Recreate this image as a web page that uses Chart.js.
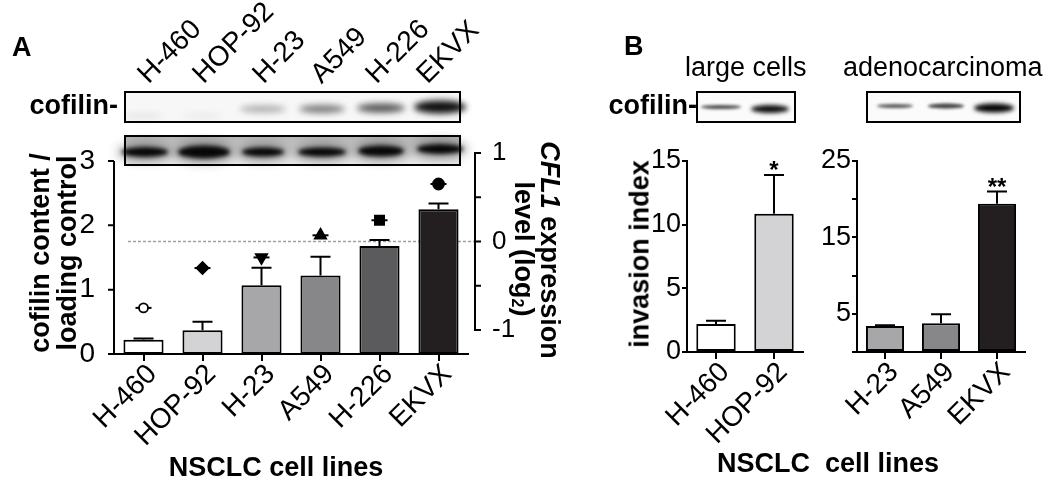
<!DOCTYPE html>
<html>
<head>
<meta charset="utf-8">
<script src="https://cdn.jsdelivr.net/npm/chart.js@4.4.1/dist/chart.umd.min.js"></script>
<style>
html, body { margin: 0; padding: 0; background: #fff; }
#fig { position: relative; width: 1050px; height: 487px; overflow: hidden; font-family: "Liberation Sans", Arial, sans-serif; color: #000; }
#fig canvas { position: absolute; top: 0; }
.t { position: absolute; line-height: 1; white-space: pre; }
.b { font-weight: bold; }
.rot { transform-origin: 0 100%; transform: rotate(-45deg); font-size: 28px; }
.vl { transform: translate(-50%, -50%) rotate(-90deg); }
.vr { transform: translate(-50%, -50%) rotate(90deg); }
</style>
</head>
<body>
<div id="fig">
  <canvas id="blots" width="1050" height="487" style="left:0"></canvas>
  <canvas id="chartA" width="520" height="487" style="left:0"></canvas>
  <canvas id="chartB1" width="210" height="487" style="left:620px"></canvas>
  <canvas id="chartB2" width="250" height="487" style="left:800px"></canvas>

  <!-- panel A text -->
  <div class="t b" style="left:12px;top:34px;font-size:27px">A</div>
  <div class="t b" style="left:0;width:118px;text-align:right;top:92px;font-size:27px">cofilin-</div>
  <div class="t rot" style="left:152px;top:60px">H-460</div>
  <div class="t rot" style="left:207px;top:60px">HOP-92</div>
  <div class="t rot" style="left:267px;top:60px">H-23</div>
  <div class="t rot" style="left:325px;top:60px">A549</div>
  <div class="t rot" style="left:380px;top:60px">H-226</div>
  <div class="t rot" style="left:431px;top:60px">EKVX</div>
  <div class="t b vl" style="left:40px;top:253px;font-size:27px">cofilin content /</div>
  <div class="t b vl" style="left:67px;top:253px;font-size:27px">loading control</div>
  <div class="t b vr" style="left:549px;top:250px;font-size:27px"><i>CFL1</i> expression</div>
  <div class="t b vr" style="left:523px;top:249px;font-size:27px">level (log<span style="font-size:16px;vertical-align:-3px;line-height:0">2</span>)</div>
  <div class="t b" style="left:276px;top:454px;font-size:27px;transform:translateX(-50%)">NSCLC cell lines</div>

  <!-- panel B text -->
  <div class="t b" style="left:624px;top:33px;font-size:27px">B</div>
  <div class="t" style="left:685px;top:54px;font-size:27px">large cells</div>
  <div class="t" style="left:843px;top:54px;font-size:27px">adenocarcinoma</div>
  <div class="t b" style="left:600px;width:97px;text-align:right;top:92px;font-size:27px">cofilin-</div>
  <div class="t b vl" style="left:640px;top:254px;font-size:27px">invasion index</div>
  <div class="t b" style="left:828px;top:450px;font-size:27px;transform:translateX(-50%)">NSCLC  cell lines</div>
</div>

<script>
// panel A: cofilin content (bars) and CFL1 mRNA level (markers, right axis)
const cellLinesA = ['H-460', 'HOP-92', 'H-23', 'A549', 'H-226', 'EKVX'];
const cofilinContent = [0.22, 0.37, 1.07, 1.22, 1.68, 2.25];
const cofilinErr = [0.02, 0.13, 0.27, 0.29, 0.09, 0.09];
const cfl1Log2 = [-0.75, -0.30, -0.18, 0.07, 0.24, 0.65];

// panel B: invasion index
const cellLinesB1 = ['H-460', 'HOP-92'];
const invasionB1 = [2.2, 10.85];
const invasionB1Err = [0.25, 3.05];
const starsB1 = ['', '*'];

const cellLinesB2 = ['H-23', 'A549', 'EKVX'];
const invasionB2 = [3.4, 3.75, 19.4];
const invasionB2Err = [0.1, 1.2, 1.6];
const starsB2 = ['', '', '**'];

const barGreys = ['#ffffff', '#d3d3d5', '#a7a7a9', '#87878a', '#5b5b5d', '#231f20'];
const greyFor = names => names.map(n => barGreys[cellLinesA.indexOf(n)]);

Chart.defaults.font.family = '"Liberation Sans", Arial, sans-serif';
Chart.defaults.color = '#000';

//-------------
//- BLOTS -
//-------------
const bc = document.getElementById('blots').getContext('2d');

function band(cx, cy, w, h, alpha, blur) {
    bc.save();
    bc.filter = 'blur(' + blur + 'px)';
    bc.fillStyle = 'rgba(0,0,0,' + alpha + ')';
    bc.beginPath();
    bc.ellipse(cx, cy, w / 2, h / 2, 0, 0, Math.PI * 2);
    bc.fill();
    bc.restore();
}

function frame(x, y, w, h) {
    bc.save();
    bc.lineWidth = 2;
    bc.strokeStyle = '#000';
    bc.strokeRect(x, y, w, h);
    bc.restore();
}

// cofilin blot A
bc.fillStyle = '#f7f7f7';
bc.fillRect(125, 92, 335, 30);
band(143, 116, 40, 6, 0.07, 3);
band(202, 116, 40, 6, 0.05, 3);
band(263, 109, 46, 7, 0.3, 3);
band(322, 109, 46, 8, 0.5, 3);
band(381, 108, 48, 9, 0.65, 3);
band(440, 107, 52, 13, 0.95, 3);
frame(125, 92, 335, 30);

// loading control blot A
var g = bc.createLinearGradient(0, 136, 0, 165);
g.addColorStop(0, '#b4b4b4');
g.addColorStop(0.5, '#d4d4d4');
g.addColorStop(1, '#ececec');
bc.fillStyle = g;
bc.fillRect(125, 136, 335, 29);
[[145, 152, 46, 10], [204, 152, 52, 13], [263, 152, 42, 9], [322, 152, 48, 9], [381, 151, 46, 11], [440, 149, 46, 10]].forEach(b => {
    band(b[0], b[1], b[2] + 10, b[3] + 10, 0.3, 5);
    band(b[0], b[1], b[2], b[3], 0.95, 2);
});
frame(125, 136, 335, 29);

// cofilin blots B
bc.fillStyle = '#fbfbfb';
bc.fillRect(697, 92, 98, 30);
bc.fillRect(867, 92, 153, 30);
band(721, 107, 40, 4, 0.7, 1.5);
band(770, 109, 38, 8, 0.95, 2);
band(895, 106, 36, 4, 0.65, 1.5);
band(946, 106, 36, 5, 0.75, 1.5);
band(994, 108, 40, 9, 0.98, 2);
frame(697, 92, 98, 30);
frame(867, 92, 153, 30);

//-------------
//- PLUGINS -
//-------------
var errorBars = {
    id: 'errorBars',
    afterDatasetsDraw(chart) {
        const ctx = chart.ctx;
        chart.data.datasets.forEach((ds, di) => {
            if (!ds.errors) return;
            const meta = chart.getDatasetMeta(di);
            const yScale = chart.scales[meta.yAxisID];
            ctx.save();
            ctx.strokeStyle = '#000';
            ctx.fillStyle = '#000';
            ctx.lineWidth = 2;
            meta.data.forEach((bar, i) => {
                const top = yScale.getPixelForValue(ds.data[i] + ds.errors[i]);
                ctx.beginPath();
                ctx.moveTo(bar.x, bar.y);
                ctx.lineTo(bar.x, top);
                ctx.moveTo(bar.x - 10, top);
                ctx.lineTo(bar.x + 10, top);
                ctx.stroke();
                if (ds.stars && ds.stars[i]) {
                    ctx.font = 'bold 24px "Liberation Sans", Arial, sans-serif';
                    ctx.textAlign = 'center';
                    ctx.textBaseline = 'alphabetic';
                    ctx.fillText(ds.stars[i], bar.x, top + 3);
                }
            });
            ctx.restore();
        });
    }
};

var axesA = {
    id: 'axesA',
    beforeDatasetsDraw(chart) {
        const {ctx, chartArea, scales: {y2}} = chart;
        const py = y2.getPixelForValue(0);
        ctx.save();
        ctx.strokeStyle = '#a0a0a0';
        ctx.lineWidth = 1.5;
        ctx.setLineDash([3, 2]);
        ctx.beginPath();
        ctx.moveTo(chartArea.left + 14, py);
        ctx.lineTo(chartArea.right + 7, py);
        ctx.stroke();
        ctx.restore();
    },
    afterDraw(chart) {
        const {ctx, chartArea, scales: {y, y2}} = chart;
        ctx.save();
        ctx.strokeStyle = '#000';
        ctx.lineWidth = 2;
        ctx.beginPath();
        // left axis
        const xl = chartArea.left;
        const yt = y.ticks;
        ctx.moveTo(xl, chartArea.bottom + 1);
        ctx.lineTo(xl, y.getPixelForValue(yt[yt.length - 1].value));
        yt.forEach(t => {
            const p = y.getPixelForValue(t.value);
            ctx.moveTo(xl - 6, p);
            ctx.lineTo(xl, p);
        });
        // right axis
        const xr = chartArea.right + 7;
        const t2 = y2.ticks;
        ctx.moveTo(xr, y2.getPixelForValue(t2[0].value));
        ctx.lineTo(xr, y2.getPixelForValue(t2[t2.length - 1].value));
        t2.forEach(t => {
            const p = y2.getPixelForValue(t.value);
            ctx.moveTo(xr - 1, p);
            ctx.lineTo(xr + 6, p);
        });
        ctx.stroke();
        ctx.restore();
    }
};

const xTicks = {font: {size: 28}, minRotation: 45, maxRotation: 45, autoSkip: false, padding: -3, labelOffset: 9};

//-------------
//- PANEL A -
//-------------
new Chart(document.getElementById('chartA'), {
    type: 'bar',
    data: {
        labels: cellLinesA,
        datasets: [{
            type: 'line',
            data: cfl1Log2,
            yAxisID: 'y2',
            showLine: false,
            order: 1,
            pointStyle: ['circle', 'rectRot', 'triangle', 'triangle', 'rect', 'circle'],
            pointRotation: [0, 0, 180, 0, 0, 0],
            pointRadius: [4.5, 6, 6.5, 6.5, 6.5, 5.5],
            pointBackgroundColor: ['#fff', '#000', '#000', '#000', '#000', '#000'],
            pointBorderColor: '#000',
            pointBorderWidth: 1.8
        }, {
            type: 'line',
            data: cfl1Log2,
            yAxisID: 'y2',
            showLine: false,
            order: 2,
            pointStyle: 'line',
            pointRadius: 8,
            pointBorderColor: '#000',
            pointBorderWidth: 2
        }, {
            data: cofilinContent,
            errors: cofilinErr,
            yAxisID: 'y',
            order: 3,
            backgroundColor: barGreys,
            borderColor: '#000',
            borderWidth: 2,
            borderSkipped: false,
            barPercentage: 0.68,
            categoryPercentage: 1
        }]
    },
    options: {
        responsive: false,
        animation: false,
        layout: {padding: {top: 153, left: 0, right: 0, bottom: 0}},
        plugins: {legend: {display: false}, tooltip: {enabled: false}},
        scales: {
            x: {
                grid: {display: true, drawOnChartArea: false, offset: false, tickLength: 7, color: '#000', lineWidth: 2},
                border: {color: '#000', width: 2},
                ticks: xTicks,
                afterFit: s => { s.height = 133; }
            },
            y: {
                position: 'left',
                min: 0,
                max: 3.124,
                grid: {display: false},
                border: {display: false},
                ticks: {stepSize: 1, includeBounds: false, font: {size: 28}, padding: 11},
                afterFit: s => { s.width = 114; }
            },
            y2: {
                position: 'right',
                min: -1.271,
                max: 1,
                grid: {display: false},
                border: {display: false},
                ticks: {
                    stepSize: 0.5,
                    includeBounds: false,
                    callback: v => Number.isInteger(v) ? v : '',
                    font: {size: 26},
                    padding: 16,
                    crossAlign: 'near'
                },
                afterFit: s => { s.width = 52; }
            }
        }
    },
    plugins: [axesA, errorBars]
});

//-------------
//- PANEL B -
//-------------
function invasionChart(id, labels, values, errors, stars, max, showTick, leftW, rightPad) {
    return new Chart(document.getElementById(id), {
        type: 'bar',
        data: {
            labels: labels,
            datasets: [{
                data: values,
                errors: errors,
                stars: stars,
                backgroundColor: greyFor(labels),
                borderColor: '#000',
                borderWidth: 2,
                borderSkipped: false,
                barPercentage: 0.68,
                categoryPercentage: 1
            }]
        },
        options: {
            responsive: false,
            animation: false,
            layout: {padding: {top: 161, left: 0, right: rightPad, bottom: 0}},
            plugins: {legend: {display: false}, tooltip: {enabled: false}},
            scales: {
                x: {
                    grid: {display: true, drawOnChartArea: false, offset: false, tickLength: 7, color: '#000', lineWidth: 2},
                    border: {color: '#000', width: 2},
                    ticks: xTicks,
                    afterFit: s => { s.height = 135; }
                },
                y: {
                    min: 0,
                    max: max,
                    grid: {display: true, drawOnChartArea: false, tickLength: 5, color: '#000', lineWidth: 2},
                    border: {color: '#000', width: 2},
                    ticks: {stepSize: 5, font: {size: 27}, padding: 1, callback: v => showTick(v) ? v : ''},
                    afterFit: s => { s.width = leftW; }
                }
            }
        },
        plugins: [errorBars]
    });
}

invasionChart('chartB1', cellLinesB1, invasionB1, invasionB1Err, starsB1, 15, v => true, 67, 27);
invasionChart('chartB2', cellLinesB2, invasionB2, invasionB2Err, starsB2, 25, v => v % 10 === 5, 57, 25);
</script>
</body>
</html>
